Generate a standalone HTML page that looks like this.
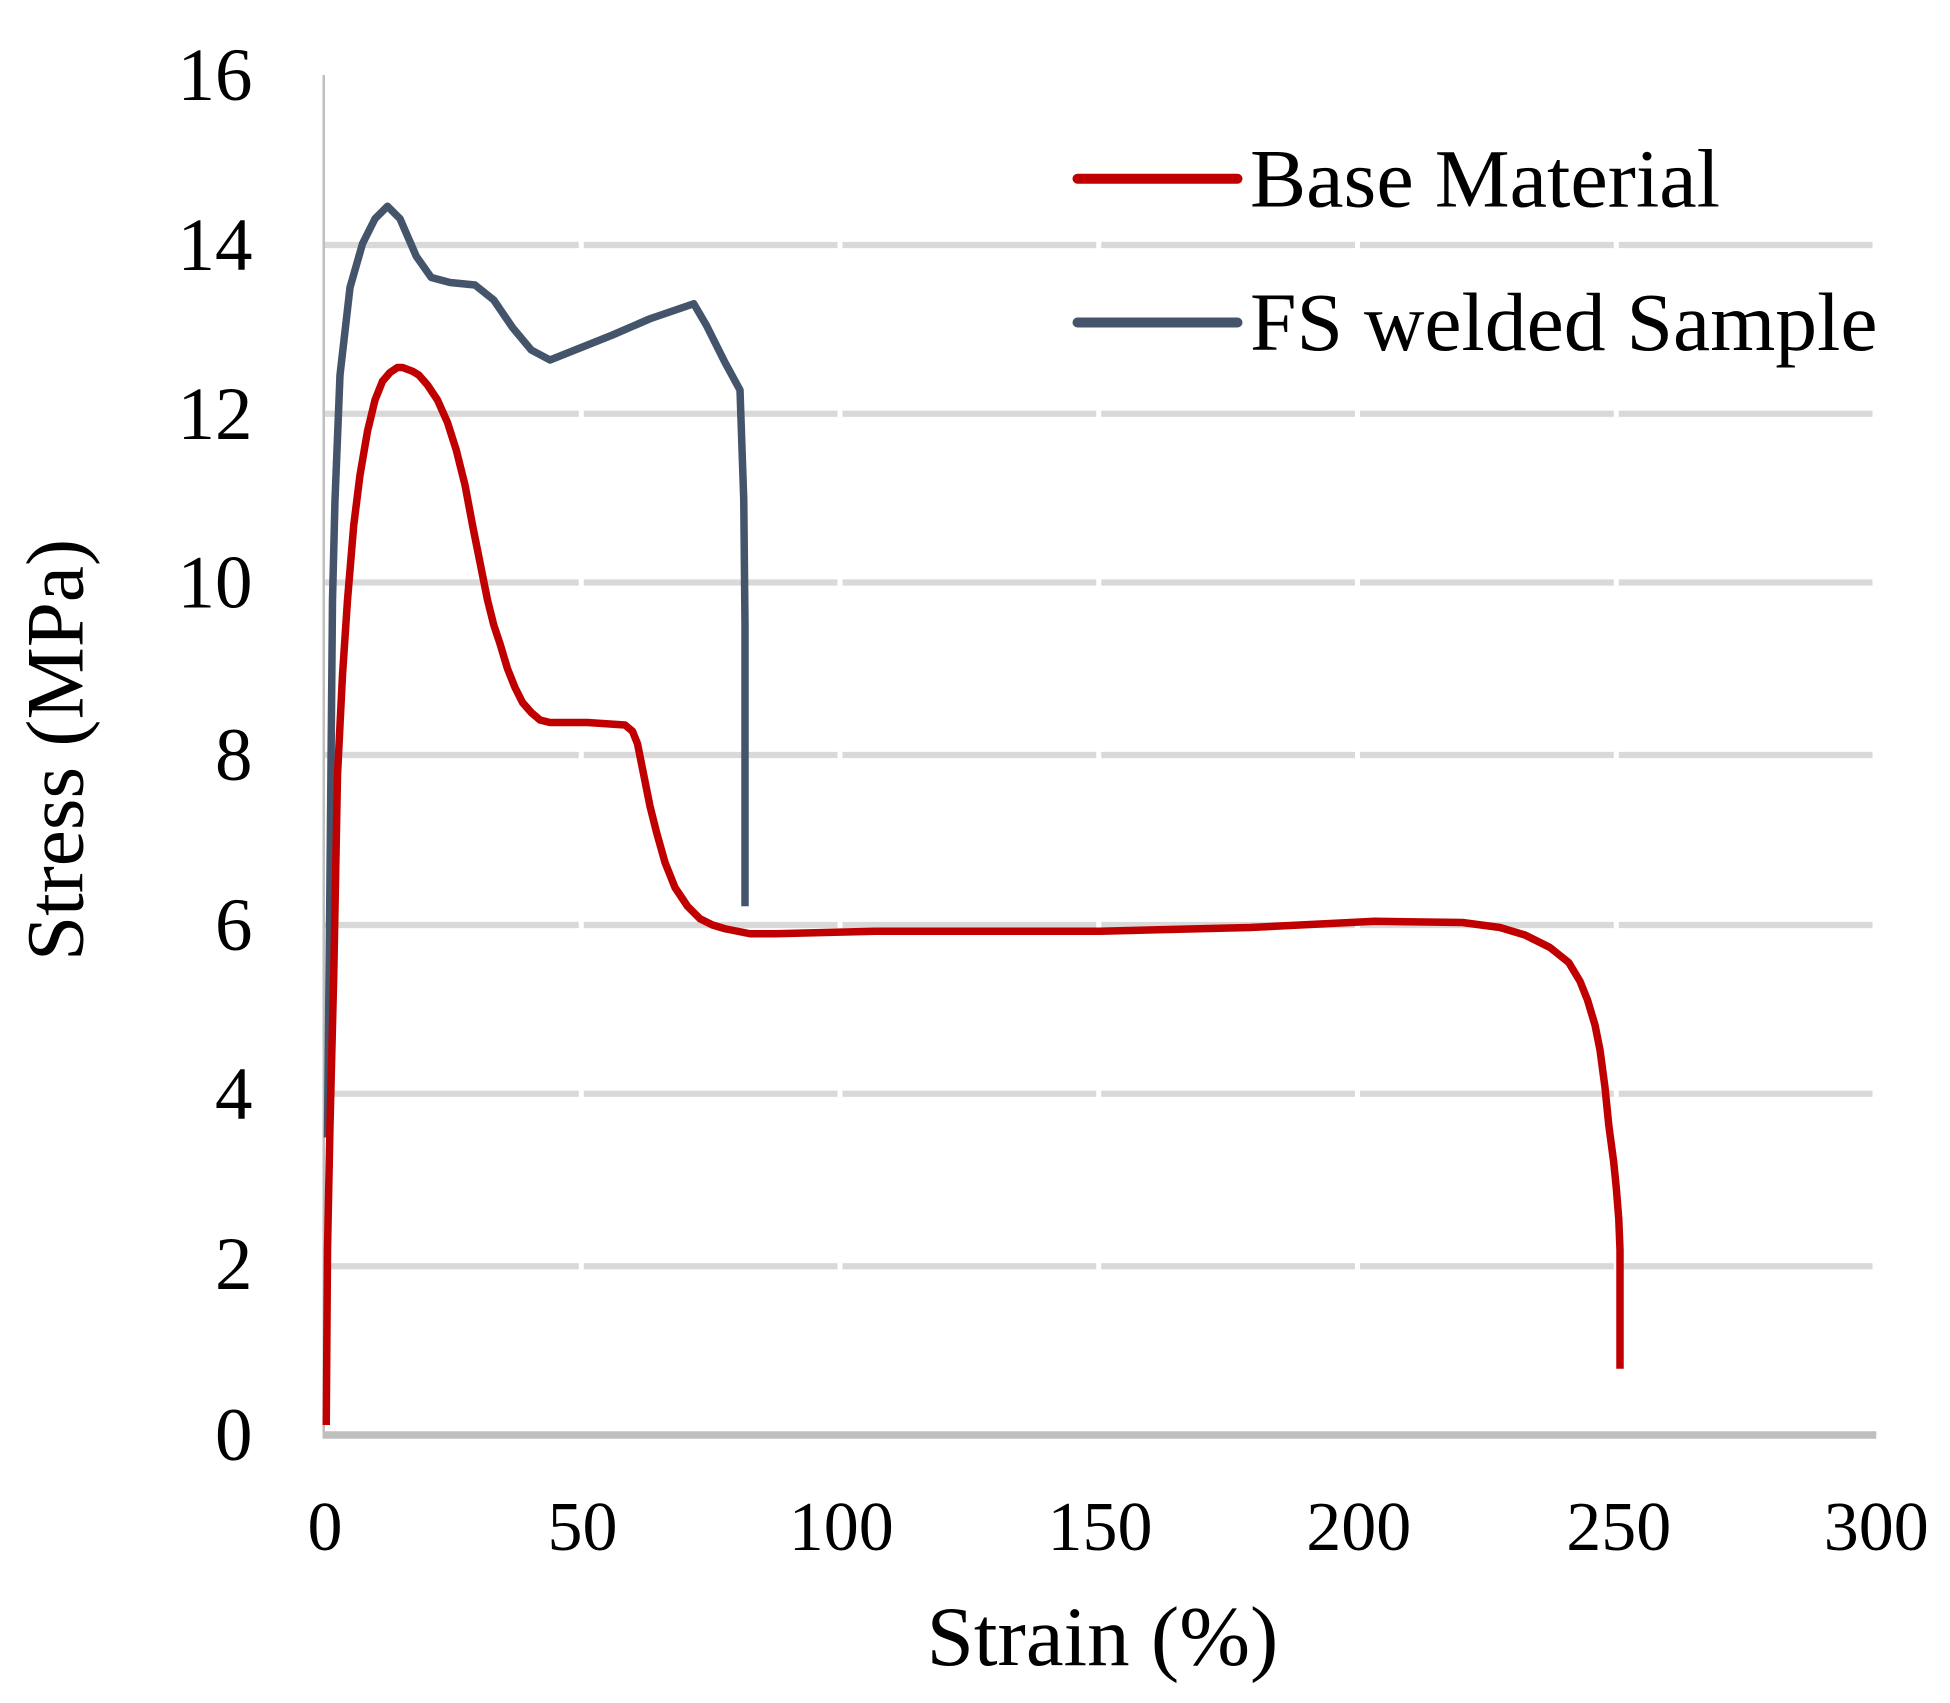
<!DOCTYPE html>
<html><head><meta charset="utf-8"><style>html,body{margin:0;padding:0;background:#fff;}svg{display:block}</style></head>
<body>
<svg width="1950" height="1703" viewBox="0 0 1560 1362.4" xmlns="http://www.w3.org/2000/svg" font-family="'Liberation Serif', serif">
<rect width="1560" height="1363" fill="#fff"/>
<g stroke="#d9d9d9" stroke-width="5" stroke-dasharray="203 4">
<line x1="260" y1="196" x2="1500" y2="196"/>
<line x1="260" y1="331" x2="1500" y2="331"/>
<line x1="260" y1="466" x2="1500" y2="466"/>
<line x1="260" y1="604" x2="1500" y2="604"/>
<line x1="260" y1="740" x2="1500" y2="740"/>
<line x1="260" y1="875" x2="1500" y2="875"/>
<line x1="260" y1="1013" x2="1500" y2="1013"/>
</g>
<line x1="259" y1="60" x2="259" y2="1148" stroke="#bfbfbf" stroke-width="2"/>
<line x1="258" y1="1148" x2="1501" y2="1148" stroke="#bfbfbf" stroke-width="6"/>
<g font-size="60" text-anchor="end" fill="#000">
<text x="202" y="1168">0</text>
<text x="202" y="1031">2</text>
<text x="202" y="895">4</text>
<text x="202" y="760">6</text>
<text x="202" y="624">8</text>
<text x="202" y="486">10</text>
<text x="202" y="351">12</text>
<text x="202" y="216">14</text>
<text x="202" y="80">16</text>
</g>
<g font-size="56" text-anchor="middle" fill="#000">
<text x="260" y="1240">0</text>
<text x="466" y="1240">50</text>
<text x="673" y="1240">100</text>
<text x="880" y="1240">150</text>
<text x="1087" y="1240">200</text>
<text x="1295" y="1240">250</text>
<text x="1501" y="1240">300</text>
</g>
<text x="882" y="1332" font-size="68" text-anchor="middle">Strain (%)</text>
<text transform="translate(66,600) rotate(-90)" font-size="65" text-anchor="middle">Stress (MPa)</text>
<line x1="862" y1="143" x2="990" y2="143" stroke="#c00000" stroke-width="8" stroke-linecap="round"/>
<text x="1000" y="165" font-size="66" textLength="376" lengthAdjust="spacingAndGlyphs">Base Material</text>
<line x1="862" y1="258" x2="990" y2="258" stroke="#44546a" stroke-width="8" stroke-linecap="round"/>
<text x="1000" y="280" font-size="66" textLength="502" lengthAdjust="spacingAndGlyphs">FS welded Sample</text>
<polyline fill="none" stroke="#44546a" stroke-width="6" stroke-linejoin="round" points="262,910 264,700 266,480 268,400 272,300 280,230 290,195 300,175 310,165 320,175 333,205 345,222 360,226 380,228 395,240 410,262 425,280 440,288 460,280 490,268 520,255 555,243 565,260 580,290 592,312 595,400 596,500 596,725"/>
<polyline fill="none" stroke="#c00000" stroke-width="6" stroke-linejoin="round" points="261,1140 262,1000 264,900 267,780 270,620 274,540 278,480 283,420 288,380 294,345 300,320 306,305 312,298 318,294 322,294 330,297 335,300 342,308 350,320 358,338 365,360 372,388 378,420 385,455 390,480 395,500 400,515 406,535 412,550 418,562 425,570 432,576 440,578 470,578 500,580 506,585 510,595 515,620 520,645 525,665 532,690 540,710 550,725 560,735 570,740 580,743 600,747 620,747 700,745 880,745 1000,742 1100,737 1170,738 1200,742 1220,748 1240,758 1255,770 1264,785 1270,800 1276,820 1280,840 1284,870 1287,900 1291,930 1293,950 1295,975 1296,1000 1296,1095"/>
</svg>
</body></html>
